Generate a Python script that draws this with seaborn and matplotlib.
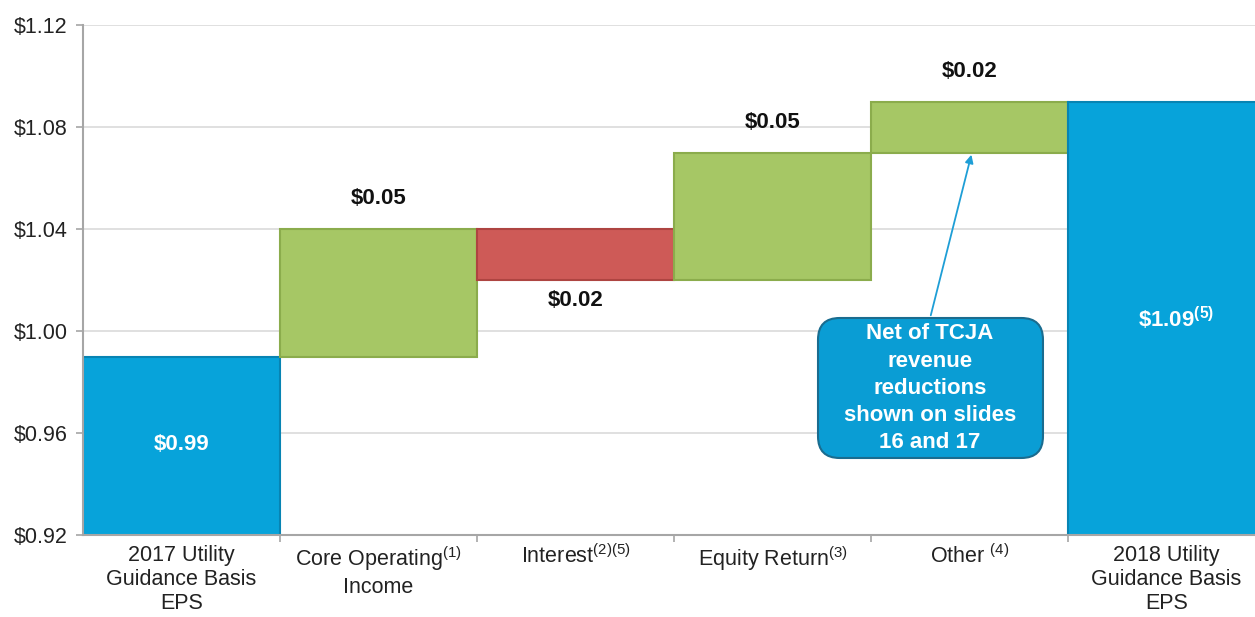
import numpy as np
import seaborn as sns
import matplotlib.pyplot as plt
from matplotlib.patches import FancyBboxPatch

# Data
categories = ["2017 Utility\nGuidance Basis\nEPS",
              "Core Operating$^{(1)}$\nIncome",
              "Interest$^{(2)(5)}$",
              "Equity Return$^{(3)}$",
              "Other $^{(4)}$",
              "2018 Utility\nGuidance Basis\nEPS"]
start_eps = 0.99
changes = [0.05, -0.02, 0.05, 0.02]
end_eps = 1.09
y_ticks = [0.92, 0.96, 1.00, 1.04, 1.08, 1.12]
note_text = "Net of TCJA\nrevenue\nreductions\nshown on slides\n16 and 17"

# waterfall levels
levels = np.concatenate([[start_eps], start_eps + np.cumsum(changes)])
bottoms = [0.0] + [min(levels[i], levels[i + 1]) for i in range(len(changes))] + [0.0]
tops = [start_eps] + [max(levels[i], levels[i + 1]) for i in range(len(changes))] + [end_eps]

BLUE, GREEN, RED = "#07A3DA", "#A6C765", "#CE5A57"
EDGE = {BLUE: "#0784B3", GREEN: "#8BAC4C", RED: "#AE4441"}
bar_colors = [BLUE] + [GREEN if c > 0 else RED for c in changes] + [BLUE]

sns.set_theme(style="whitegrid")
plt.rcParams["font.family"] = ["Liberation Sans", "DejaVu Sans"]
plt.rcParams["mathtext.fontset"] = "custom"
plt.rcParams["mathtext.rm"] = "Liberation Sans"
plt.rcParams["mathtext.bf"] = "Liberation Sans:bold"

fig = plt.figure(figsize=(12.55, 6.17), dpi=100)
ax = fig.add_axes([83 / 1255, 82 / 617, 1172 / 1255, 510 / 617])

sns.barplot(x=categories, y=tops, hue=categories, palette=dict(zip(categories, bar_colors)),
            width=1.0, errorbar=None, legend=False, saturation=1, ax=ax)

for p, b, t, col in zip(ax.patches, bottoms, tops, bar_colors):
    p.set_y(b)
    p.set_height(t - b)
    p.set_edgecolor(EDGE[col])
    p.set_linewidth(1.5)

ax.set_xlim(-0.5, -0.5 + 1172 / 197)
ax.set_ylim(0.92, 1.12)
ax.set_yticks(y_ticks)
ax.set_yticklabels([f"${v:.2f}" for v in y_ticks])
ax.grid(axis="x", visible=False)
ax.grid(axis="y", color="#DADADA", linewidth=1.2)

for s in ["top", "right"]:
    ax.spines[s].set_visible(False)
for s in ["left", "bottom"]:
    ax.spines[s].set_color("#A6A6A6")
    ax.spines[s].set_linewidth(1.5)

ax.tick_params(axis="y", labelsize=15.5, length=5, width=1.2, color="#A6A6A6", pad=6, left=True,
               labelcolor="#222222")
ax.tick_params(axis="x", which="major", labelsize=15.5, length=0, pad=7, labelcolor="#222222")
ax.set_xticks(np.arange(0.5, 5.0, 1.0), minor=True)
ax.tick_params(axis="x", which="minor", length=5, width=1.2, color="#A6A6A6", bottom=True)
for lbl in ax.get_xticklabels():
    lbl.set_linespacing(1.2)
ax.set_xlabel("")
ax.set_ylabel("")

# value labels
ax.text(0, 0.9553, f"${start_eps:.2f}", ha="center", va="center", color="white",
        fontsize=16, fontweight="bold")
ax.text(5.05, 1.005, f"\\${end_eps:.2f}" + r"$^{\mathbf{(5)}}$", ha="center", va="center",
        color="white", fontsize=16, fontweight="bold")
for i, c in enumerate(changes):
    x = i + 1
    if c > 0:
        y = tops[x] + 0.0118
    else:
        y = bottoms[x] - 0.0082
    ax.text(x, y, f"${abs(c):.2f}", ha="center", va="center", color="#111111",
            fontsize=16, fontweight="bold")

# callout
box = FancyBboxPatch((3.231, 0.9502), 4.373 - 3.231, 1.0051 - 0.9502,
                     boxstyle="round,pad=0,rounding_size=0.11",
                     mutation_aspect=197 / 2550,
                     facecolor="#0A9DD4", edgecolor="#1A6C8F", linewidth=1.5, zorder=5)
ax.add_patch(box)
ax.text(3.80, 0.9776, note_text, ha="center", va="center", color="white",
        fontsize=16, fontweight="bold", linespacing=1.38, zorder=6)
ax.annotate("", xy=(4.013, 1.0702), xytext=(3.80, 1.0051),
            arrowprops=dict(arrowstyle="-|>", color="#1E9ED6", lw=1.3, mutation_scale=12),
            zorder=6)

fig.savefig("out.png", dpi=100)
